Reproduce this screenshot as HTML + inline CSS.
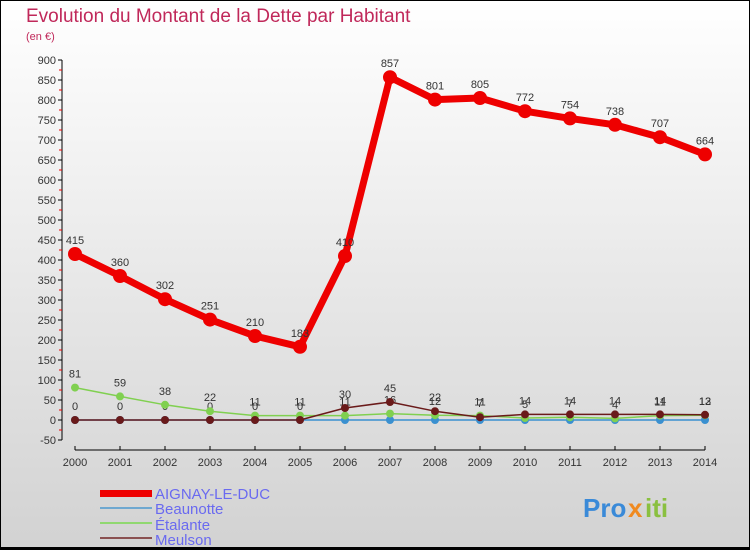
<!DOCTYPE html>
<html><head><meta charset="utf-8"><style>
body{margin:0}
svg{display:block;font-family:"Liberation Sans",sans-serif}
</style></head><body>
<svg id="c" width="750" height="550" xmlns="http://www.w3.org/2000/svg">
<defs><linearGradient id="bg" x1="0" y1="0" x2="0" y2="1"><stop offset="0" stop-color="#ffffff"/><stop offset="1" stop-color="#d2d2d2"/></linearGradient></defs>
<rect x="0.5" y="0.5" width="749" height="548" fill="url(#bg)" stroke="#000"/>
<rect x="0" y="547" width="750" height="3" fill="#000"/>
<text x="26" y="22" font-size="19" fill="#c0285a">Evolution du Montant de la Dette par Habitant</text>
<text x="26" y="40" font-size="11" fill="#c0285a">(en €)</text>
<g id="axes"></g><g id="series"></g>
<g>
<rect x="100" y="490" width="52" height="7" fill="#ee0000"/>
<text x="155" y="499" font-size="15" fill="#6a6af0">AIGNAY-LE-DUC</text>
<rect x="100" y="507" width="52" height="2" fill="#6fa8d0"/>
<text x="155" y="514" font-size="15" fill="#6a6af0">Beaunotte</text>
<rect x="100" y="522" width="52" height="2" fill="#90d870"/>
<text x="155" y="530" font-size="15" fill="#6a6af0">Étalante</text>
<rect x="100" y="537" width="52" height="2" fill="#8a5050"/>
<text x="155" y="545" font-size="15" fill="#6a6af0">Meulson</text>
</g>
<g font-size="26" font-weight="bold">
<text x="583" y="517" fill="#3a8ad8">Pro</text><text x="628" y="517" fill="#f08a20">x</text><text x="645" y="517" fill="#8ac040">iti</text>
</g>
</svg>
<script>
const years=[2000,2001,2002,2003,2004,2005,2006,2007,2008,2009,2010,2011,2012,2013,2014];
const aignay=[415,360,302,251,210,183,410,857,801,805,772,754,738,707,664];
const beaunotte=[0,0,0,0,0,0,0,0,0,0,0,0,0,0,0];
const etalante=[81,59,38,22,11,11,11,16,12,11,5,7,4,11,12];
const meulson=[0,0,0,0,0,0,30,45,22,7,14,14,14,14,13];
const yTicks=[-50,0,50,100,150,200,250,300,350,400,450,500,550,600,650,700,750,800,850,900];
const NS='http://www.w3.org/2000/svg';
const X=i=>75+i*45, Y=v=>420-v*0.4;
function mk(t,a,p){const e=document.createElementNS(NS,t);for(const k in a)e.setAttribute(k,a[k]);p.appendChild(e);return e;}
const ax=document.getElementById('axes'), sg=document.getElementById('series');
let l=mk('line',{x1:62,y1:Y(900),x2:62,y2:Y(-50),stroke:'#000'},ax);


yTicks.forEach(v=>{
 const t=mk('line',{x1:58,y1:Y(v),x2:62,y2:Y(v),stroke:'#000'},ax);
 
 
 const m=mk('line',{x1:59,y1:Y(v+25),x2:62,y2:Y(v+25),stroke:'#e00'},ax);
 if(v===900)m.remove();
 const tx=mk('text',{x:56,y:Y(v)+4,'font-size':11,fill:'#333','text-anchor':'end'},ax);
 tx.textContent=v;
 
 
});
l=mk('line',{x1:X(0),y1:450,x2:X(14),y2:450,stroke:'#000'},ax);


years.forEach((y,i)=>{
 const t=mk('line',{x1:X(i),y1:446,x2:X(i),y2:450,stroke:'#000'},ax);
 
 
 const tx=mk('text',{x:X(i),y:466,'font-size':11,fill:'#333','text-anchor':'middle'},ax);
 tx.textContent=y;
 
 
});
function series(vals,color,w,r,name,labelsFrom,labelsTo){
 const g=mk('g',{},sg);
 
 
 const p=mk('polyline',{points:vals.map((v,i)=>X(i)+','+Y(v)).join(' '),fill:'none',stroke:color,'stroke-width':w,'stroke-linejoin':'round'},g);
 
 
 vals.forEach((v,i)=>{
  const c=mk('circle',{cx:X(i),cy:Y(v),r:r,fill:color},g);
  
  
  if(i>=labelsFrom&&i<=labelsTo){
   const t=mk('text',{x:X(i),y:Y(v)-10,'font-size':11,fill:'#333','text-anchor':'middle'},g);
   t.textContent=v;
   
   
  }
 });
}
series(beaunotte,'#3a90d0',1.5,4,'beaunotte',0,5);
series(etalante,'#80d050',1.5,4,'etalante',0,14);
series(meulson,'#6a1a1a',1.5,4,'meulson',6,14);
series(aignay,'#ee0000',7,7,'aignay',0,14);
</script>
</body></html>
